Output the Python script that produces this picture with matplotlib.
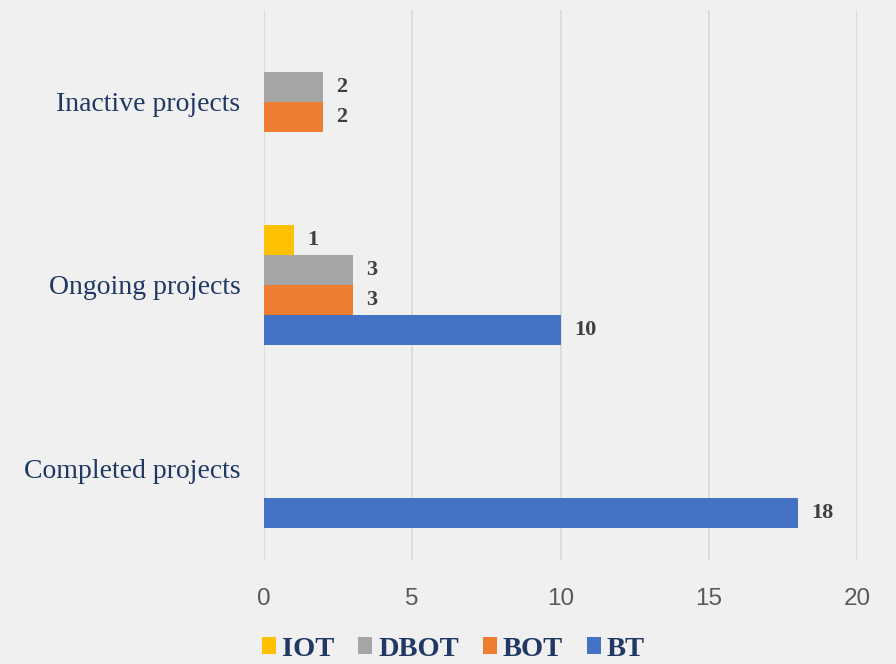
import numpy as np
import matplotlib.pyplot as plt

# Categories bottom to top
categories = ['Completed projects', 'Ongoing projects', 'Inactive projects']
series = ['BT', 'BOT', 'DBOT', 'IOT']
bt = [18, 10, 0]
bot = [0, 3, 2]
dbot = [0, 3, 2]
iot = [0, 1, 0]
colors = ['#4472C4', '#ED7D31', '#A5A5A5', '#FFC000']

bg = '#f0f0f0'
fig = plt.figure(figsize=(8.96, 6.64), dpi=100, facecolor=bg)
ax = fig.add_axes([0.2946, 0.157, 0.662, 0.828], facecolor=bg)

y = np.arange(len(categories))
h = 0.164
values = [bt, bot, dbot, iot]
for i, (name, vals, c) in enumerate(zip(series, values, colors)):
    off = (i - 1.5) * h
    bars = ax.barh(y + off, vals, height=h, color=c, label=name, zorder=3)
    for b, v in zip(bars, vals):
        if v:
            ax.text(v + 0.45, b.get_y() + h / 2, str(v), va='center', ha='left',
                    family='Liberation Serif', weight='bold', fontsize=16, color='#404040')

ax.set_xlim(0, 20)
ax.set_ylim(-0.5, 2.5)
ax.set_xticks([0, 5, 10, 15, 20])
ax.set_yticks(y)
ax.set_yticklabels(categories, family='Liberation Serif', fontsize=20, color='#1F3864')
for lbl in ax.get_xticklabels():
    lbl.set_family('Liberation Sans')
    lbl.set_fontsize(17.5)
    lbl.set_color('#595959')
ax.tick_params(axis='both', length=0)
ax.tick_params(axis='x', pad=20)
ax.tick_params(axis='y', pad=17)
ax.grid(axis='x', color='#d9d9d9', linewidth=1.2, zorder=0)
for s in ax.spines.values():
    s.set_visible(False)

handles, labels = ax.get_legend_handles_labels()
leg = fig.legend(handles[::-1], labels[::-1], loc='lower center', bbox_to_anchor=(0.506, -0.035),
                 ncol=4, frameon=False, handlelength=0.5, handleheight=0.5, handletextpad=0.2,
                 columnspacing=0.85, prop={'family': 'Liberation Serif', 'weight': 'bold', 'size': 20.5})
for t in leg.get_texts():
    t.set_color('#1F3864')

fig.savefig('out.png', dpi=100, facecolor=bg)
